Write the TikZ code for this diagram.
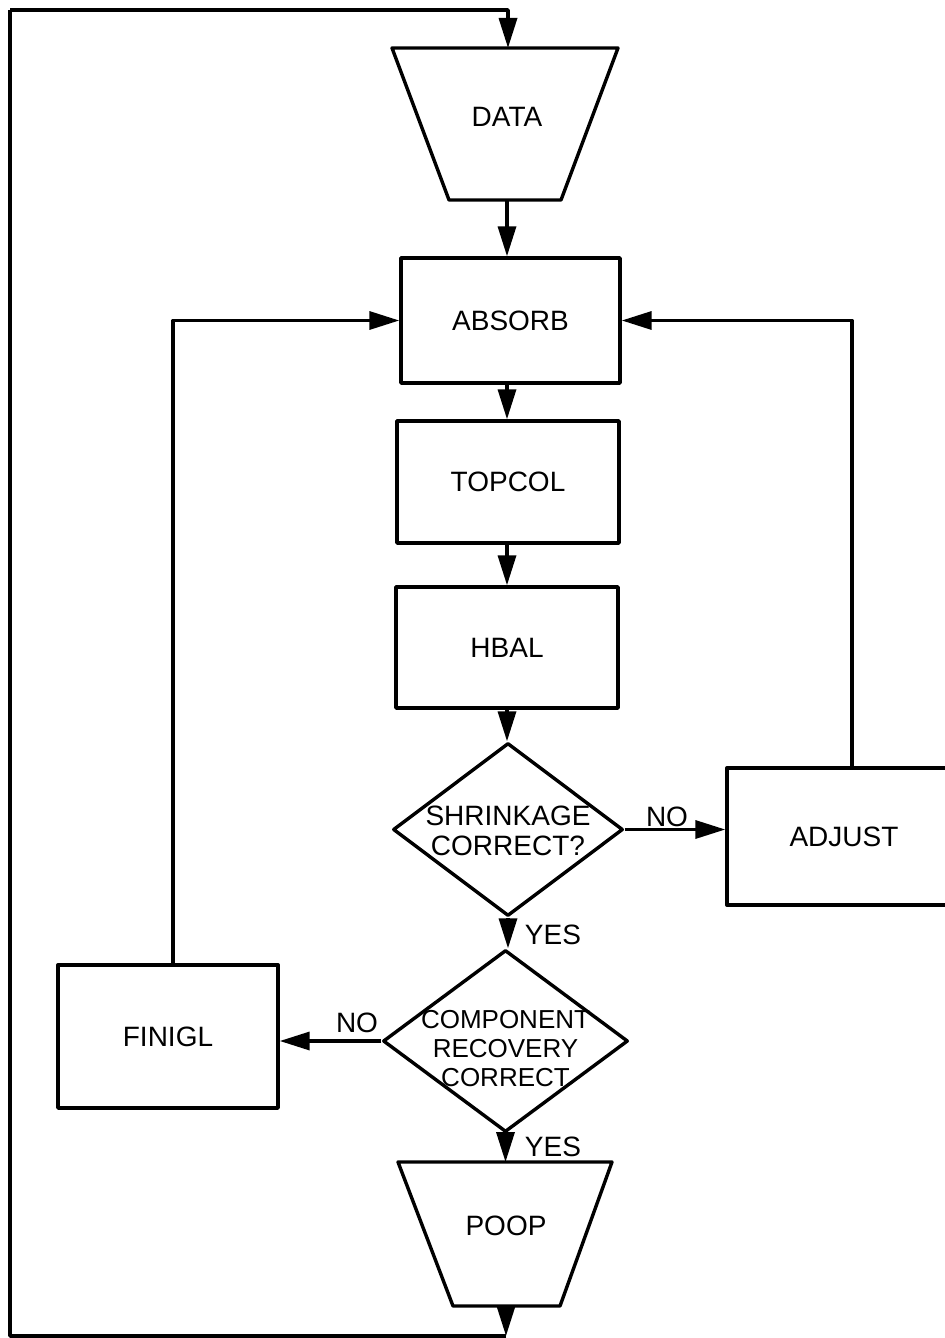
\documentclass[tikz,border=0pt]{standalone}
\usepackage{fontspec}
\setmainfont{Liberation Sans}
\usetikzlibrary{arrows.meta,shapes.geometric}
\begin{document}
\begin{tikzpicture}[x=0.5pt,y=-0.5pt, line width=1.7pt, line join=round,
  txt/.style={font=\fontsize{14}{15}\selectfont, inner sep=1pt},
  box/.style={draw, rectangle, inner sep=0pt, font=\fontsize{14}{15}\selectfont},
  dec/.style={draw, diamond, inner sep=0pt},
  arr/.style={-{Triangle[length=15pt,width=9pt]}}]
\useasboundingbox (0,0) rectangle (945,1338);
\clip (0,0) rectangle (945,1338);

% DATA trapezoid
\draw (392,48) -- (618,48) -- (561,200) -- (449,200) -- cycle;
\node[txt] (data) at (507,117) {DATA};
\coordinate (datat) at (508,48);
\coordinate (datab) at (507,200);

\node[box, minimum width=109.5pt, minimum height=62.5pt] (absorb) at (510.5,320.5) {ABSORB};
\node[box, minimum width=111pt, minimum height=61pt] (topcol) at (508,482) {TOPCOL};
\node[box, minimum width=111pt, minimum height=60.5pt] (hbal) at (507,647.5) {HBAL};

\node[dec, minimum width=115pt, minimum height=86.5pt] (shrink) at (508,829.5) {};
\node[txt, align=center, font=\fontsize{14}{15}\selectfont] (shrinktxt) at (508,831) {SHRINKAGE\\CORRECT?};

\node[box, minimum width=117pt, minimum height=68.5pt] (adjust) at (844,836.5) {ADJUST};

\node[dec, minimum width=122.5pt, minimum height=91pt] (comp) at (505.5,1041) {};
\node[txt, align=center, font=\fontsize{13}{14.5}\selectfont] (comptxt) at (505.5,1049) {COMPONENT\\RECOVERY\\CORRECT};

\node[box, minimum width=110pt, minimum height=71.5pt] (finigl) at (168,1036.5) {FINIGL};

% POOP trapezoid
\draw (398,1162) -- (612,1162) -- (560,1306) -- (453,1306) -- cycle;
\node[txt] (poop) at (506,1226) {POOP};
\coordinate (poopt) at (506,1162);
\coordinate (poopb) at (506,1306);

\coordinate (bottom) at (506,1336);
\coordinate (botleft) at (10,1336);
\coordinate (topleft) at (10,10);
\coordinate (fintop) at (173,965);
\coordinate (adjtop) at (852,768);

% connectors
\draw[arr] (topleft) -| (datat);
\draw[arr] (datab) -- (datab |- absorb.north);
\draw[arr] (absorb.south -| datab) -- (datab |- topcol.north);
\draw[arr] (topcol.south -| datab) -- (datab |- hbal.north);
\draw[arr] (hbal.south) -- (hbal.south |- shrink.north);
\draw[arr] (shrink.east) -- (shrink.east -| adjust.west);
\draw[arr] (shrink.south) -- (shrink.south |- comp.north);
\draw[arr] (comp.west) -- (comp.west -| finigl.east);
\draw[arr] (comp.south) -- (comp.south |- poopt);
\draw[arr] (poopb) -- (bottom);
\draw (bottom) -- (botleft) -- (topleft);
\draw[arr] (fintop) |- (absorb.west);
\draw[arr] (adjtop) |- (absorb.east);

% labels
\node[txt] (no1) at (667,817) {NO};
\node[txt] (yes1) at (553,935) {YES};
\node[txt] (no2) at (357,1023) {NO};
\node[txt] (yes2) at (553,1147) {YES};
\end{tikzpicture}
\end{document}
